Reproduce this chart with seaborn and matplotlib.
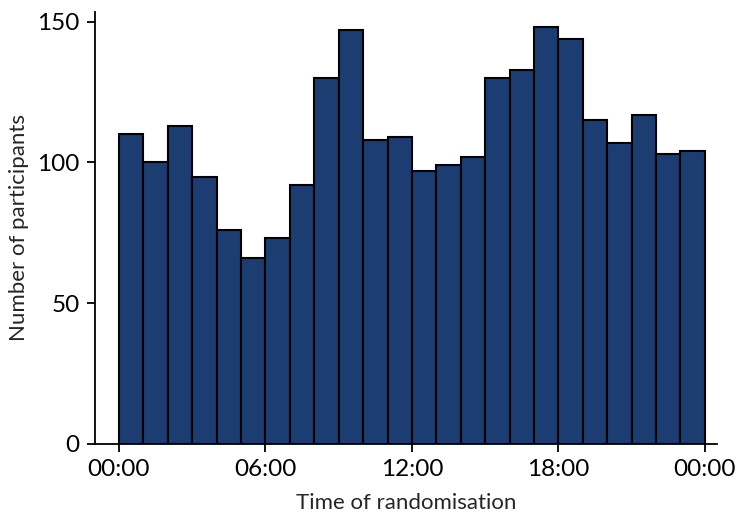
import matplotlib
matplotlib.use("Agg")
import matplotlib.pyplot as plt
import seaborn as sns
import numpy as np
import pandas as pd

hours = list(range(24))
counts = [110, 100, 113, 95, 76, 66, 73, 92, 130, 147, 108, 109,
          97, 99, 102, 130, 133, 148, 144, 115, 107, 117, 103, 104]
tick_pos = [0, 6, 12, 18, 24]
tick_labels = ["00:00", "06:00", "12:00", "18:00", "00:00"]

sns.set_theme(style="ticks")
plt.rcParams['font.family'] = ['Lato', 'DejaVu Sans']

df = pd.DataFrame({"hour": [h + 0.5 for h in hours], "n": counts})

fig = plt.figure(figsize=(7.37, 5.15), dpi=100)
ax = fig.add_axes([0.129, 0.138, 0.844, 0.839])
sns.histplot(data=df, x="hour", weights="n", bins=24, binrange=(0, 24),
             color="#1b3d72", alpha=1, edgecolor="black", linewidth=1.5, ax=ax)
ax.set_xlim(-0.98, 24.5)
ax.set_ylim(0, 153.5)
ax.set_xticks(tick_pos)
ax.set_xticklabels(tick_labels)
ax.set_yticks([0, 50, 100, 150])
ax.tick_params(labelsize=17.5, length=6, width=1.3, color="black", labelcolor="black", pad=5)
ax.set_xlabel("Time of randomisation", fontsize=16, labelpad=9)
ax.set_ylabel("Number of participants", fontsize=16, labelpad=6)
for s in ["top", "right"]:
    ax.spines[s].set_visible(False)
for s in ["left", "bottom"]:
    ax.spines[s].set_color("black")
    ax.spines[s].set_linewidth(1.3)
fig.savefig("out.png", dpi=100)
